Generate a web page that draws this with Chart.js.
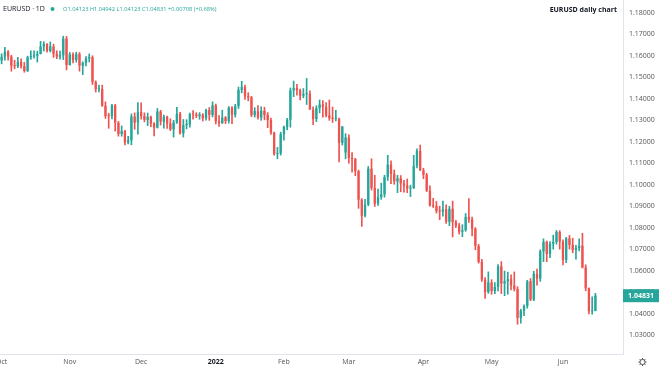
<!DOCTYPE html>
<html>
<head>
<meta charset="utf-8">
<script src="https://cdn.jsdelivr.net/npm/chart.js@4.4.1/dist/chart.umd.min.js"></script>
<style>
  html, body { margin: 0; padding: 0; background: #fff; }
  #wrap { width: 660px; height: 370px; }
</style>
</head>
<body>
<div id="wrap"><canvas id="myChart" width="660" height="370"></canvas></div>
<script>
// EURUSD daily candles, 1 Oct 2021 .. 15 Jun 2022 (one line per month)
const opens = [
  1.1579,1.1596,1.1620,1.1597,1.1554,1.1552,1.1572,1.1552,1.1530,1.1594,1.1598,1.1601,1.1609,1.1644,1.1655,1.1623,1.1644,1.1609,1.1597,1.1603,1.1681,
  1.1558,1.1607,1.1581,1.1609,1.1555,1.1567,1.1588,1.1594,1.1478,1.1445,1.1446,1.1368,1.1320,1.1319,1.1370,1.1289,1.1236,1.1250,1.1197,1.1207,1.1318,1.1290,
  1.1338,1.1320,1.1302,1.1316,1.1285,1.1266,1.1341,1.1294,1.1317,1.1285,1.1258,1.1290,1.1330,1.1239,1.1278,1.1281,1.1329,1.1327,1.1320,1.1327,1.1310,1.1348,1.1325,
  1.1370,1.1296,1.1287,1.1313,1.1297,1.1359,1.1326,1.1366,1.1442,1.1455,1.1412,1.1407,1.1325,1.1343,1.1313,1.1345,1.1325,1.1302,1.1242,1.1143,1.1146,
  1.1235,1.1270,1.1303,1.1440,1.1450,1.1440,1.1415,1.1422,1.1424,1.1349,1.1306,1.1357,1.1374,1.1363,1.1323,1.1310,1.1307,1.1307,1.1195,1.1150,
  1.1220,1.1125,1.1120,1.1063,1.0930,1.0855,1.0907,1.1075,1.0985,1.0912,1.0943,1.0955,1.1036,1.1094,1.1051,1.1016,1.1030,1.1006,1.0996,1.0983,1.0985,1.1088,1.1158,
  1.1067,1.1046,1.0972,1.0903,1.0900,1.0877,1.0875,1.0886,1.0828,1.0888,1.0826,1.0810,1.0781,1.0788,1.0850,1.0838,1.0796,1.0715,1.0640,1.0558,1.0500,
  1.0545,1.0505,1.0524,1.0620,1.0540,1.0550,1.0560,1.0530,1.0514,1.0380,1.0413,1.0435,1.0550,1.0465,1.0585,1.0563,1.0690,1.0734,1.0678,1.0725,1.0733,1.0780,
  1.0735,1.0650,1.0750,1.0720,1.0696,1.0705,1.0716,1.0614,1.0518,1.0410,1.04123
];
const highs = [
  1.1610,1.1640,1.1625,1.1603,1.1580,1.1593,1.1587,1.1570,1.1599,1.1624,1.1624,1.1622,1.1668,1.1666,1.1658,1.1665,1.1655,1.1624,1.1623,1.1692,1.1691,
  1.1616,1.1614,1.1617,1.1616,1.1573,1.1597,1.1609,1.1601,1.1484,1.1464,1.1464,1.1386,1.1333,1.1374,1.1375,1.1295,1.1274,1.1253,1.1226,1.1330,1.1335,1.1383,
  1.1382,1.1335,1.1334,1.1320,1.1290,1.1355,1.1347,1.1325,1.1320,1.1307,1.1300,1.1361,1.1337,1.1304,1.1303,1.1334,1.1346,1.1336,1.1336,1.1331,1.1353,1.1360,1.1386,
  1.1376,1.1322,1.1347,1.1318,1.1364,1.1364,1.1375,1.1455,1.1482,1.1464,1.1429,1.1412,1.1359,1.1369,1.1363,1.1361,1.1336,1.1310,1.1245,1.1174,1.1245,
  1.1273,1.1309,1.1451,1.1483,1.1468,1.1446,1.1448,1.1495,1.1438,1.1363,1.1368,1.1395,1.1392,1.1383,1.1395,1.1362,1.1347,1.1310,1.1272,1.1238,
  1.1233,1.1150,1.1123,1.1068,1.0935,1.0932,1.1085,1.1121,1.1044,1.0980,1.1007,1.1044,1.1137,1.1111,1.1069,1.1044,1.1043,1.1020,1.1027,1.0998,1.1137,1.1167,1.1185,
  1.1077,1.1053,1.0995,1.0937,1.0922,1.0900,1.0924,1.0906,1.0900,1.0924,1.0834,1.0820,1.0814,1.0866,1.0936,1.0849,1.0800,1.0722,1.0653,1.0568,1.0594,
  1.0558,1.0544,1.0628,1.0642,1.0598,1.0593,1.0580,1.0594,1.0525,1.0420,1.0440,1.0555,1.0563,1.0597,1.0607,1.0697,1.0748,1.0738,1.0735,1.0765,1.0787,1.0786,
  1.0743,1.0755,1.0764,1.0751,1.0718,1.0748,1.0774,1.0627,1.0520,1.0478,1.04942
];
const lows = [
  1.1563,1.1580,1.1580,1.1529,1.1540,1.1545,1.1543,1.1524,1.1527,1.1584,1.1589,1.1572,1.1609,1.1623,1.1617,1.1618,1.1593,1.1587,1.1585,1.1583,1.1535,
  1.1557,1.1567,1.1571,1.1529,1.1513,1.1554,1.1572,1.1467,1.1432,1.1432,1.1365,1.1309,1.1263,1.1307,1.1250,1.1226,1.1226,1.1186,1.1190,1.1186,1.1258,1.1235,
  1.1306,1.1293,1.1275,1.1270,1.1227,1.1264,1.1278,1.1264,1.1262,1.1252,1.1222,1.1286,1.1235,1.1222,1.1260,1.1268,1.1305,1.1312,1.1305,1.1297,1.1301,1.1300,1.1316,
  1.1283,1.1272,1.1285,1.1285,1.1287,1.1285,1.1315,1.1355,1.1428,1.1397,1.1391,1.1317,1.1315,1.1306,1.1300,1.1302,1.1266,1.1234,1.1137,1.1121,1.1138,
  1.1208,1.1255,1.1268,1.1410,1.1417,1.1395,1.1405,1.1374,1.1374,1.1280,1.1294,1.1335,1.1315,1.1316,1.1300,1.1290,1.1297,1.1106,1.1185,1.1121,
  1.1100,1.1059,1.1042,1.0890,1.0806,1.0850,1.0902,1.0975,1.0899,1.0904,1.0932,1.0942,1.1020,1.1005,1.1002,1.0963,1.0967,1.0965,1.0963,1.0945,1.0982,1.1078,1.1066,
  1.1028,1.0968,1.0900,1.0894,1.0868,1.0837,1.0854,1.0820,1.0809,1.0757,1.0800,1.0770,1.0758,1.0783,1.0824,1.0762,1.0697,1.0635,1.0550,1.0470,1.0494,
  1.0490,1.0492,1.0505,1.0493,1.0483,1.0490,1.0510,1.0505,1.0350,1.0355,1.0390,1.0425,1.0460,1.0460,1.0532,1.0550,1.0642,1.0642,1.0660,1.0700,1.0723,1.0700,
  1.0627,1.0637,1.0700,1.0683,1.0653,1.0692,1.0612,1.0506,1.0398,1.0397,1.04123
];
const closes = [
  1.1596,1.1620,1.1597,1.1554,1.1552,1.1572,1.1552,1.1530,1.1594,1.1598,1.1601,1.1609,1.1644,1.1655,1.1623,1.1644,1.1609,1.1597,1.1603,1.1681,1.1558,
  1.1607,1.1581,1.1609,1.1555,1.1567,1.1588,1.1594,1.1478,1.1445,1.1446,1.1368,1.1320,1.1319,1.1370,1.1289,1.1236,1.1250,1.1197,1.1207,1.1318,1.1290,1.1338,
  1.1320,1.1302,1.1316,1.1285,1.1266,1.1341,1.1294,1.1317,1.1285,1.1258,1.1290,1.1330,1.1239,1.1278,1.1281,1.1329,1.1327,1.1320,1.1327,1.1310,1.1348,1.1325,1.1370,
  1.1296,1.1287,1.1313,1.1297,1.1359,1.1326,1.1366,1.1442,1.1455,1.1412,1.1407,1.1325,1.1343,1.1313,1.1345,1.1325,1.1302,1.1242,1.1143,1.1146,1.1235,
  1.1270,1.1303,1.1440,1.1450,1.1440,1.1415,1.1422,1.1424,1.1349,1.1306,1.1357,1.1374,1.1363,1.1323,1.1310,1.1307,1.1307,1.1195,1.1270,1.1220,
  1.1125,1.1120,1.1063,1.0930,1.0855,1.0907,1.1075,1.0985,1.0912,1.0943,1.0955,1.1036,1.1094,1.1051,1.1016,1.1030,1.1006,1.0996,1.0983,1.0985,1.1088,1.1158,1.1067,
  1.1046,1.0972,1.0903,1.0900,1.0877,1.0875,1.0886,1.0828,1.0888,1.0826,1.0810,1.0781,1.0788,1.0850,1.0838,1.0796,1.0715,1.0640,1.0558,1.0500,1.0545,
  1.0505,1.0524,1.0620,1.0540,1.0550,1.0560,1.0530,1.0514,1.0380,1.0413,1.0435,1.0550,1.0465,1.0585,1.0563,1.0690,1.0734,1.0678,1.0725,1.0733,1.0780,1.0735,
  1.0650,1.0750,1.0720,1.0696,1.0705,1.0716,1.0614,1.0518,1.0410,1.0412,1.04831
];

const priceTicks = [1.03, 1.04, 1.05, 1.06, 1.07, 1.08, 1.09, 1.10, 1.11, 1.12, 1.13, 1.14, 1.15, 1.16, 1.17, 1.18];
const monthNames = ['Oct', 'Nov', 'Dec', '2022', 'Feb', 'Mar', 'Apr', 'May', 'Jun'];
const header = 'EURUSD \u00b7 1D';
const ohlcText = 'O1.04123 H1.04942 L1.04123 C1.04831 +0.00708 (+0.68%)';
const titleText = 'EURUSD daily chart';

const UP = '#26a69a';
const DOWN = '#ef5350';
const FONT = '"Open Sans", "Noto Sans", sans-serif';
const EMPTY_SLOTS = 8; // blank space right of the last candle

// trading days (Mon-Fri) starting 1 Oct 2021
const dates = [];
(function () {
    const d = new Date(Date.UTC(2021, 9, 1));
    while (dates.length < closes.length) {
        const wd = d.getUTCDay();
        if (wd !== 0 && wd !== 6) dates.push(d.toISOString().slice(0, 10));
        d.setUTCDate(d.getUTCDate() + 1);
    }
})();

// month label on the first trading day of each month
const monthLabelAt = {};
let mi = 0;
dates.forEach((s, i) => {
    if (i === 0 || s.slice(5, 7) !== dates[i - 1].slice(5, 7)) monthLabelAt[i] = monthNames[mi++];
});
const xLabels = dates.concat(Array.from({ length: EMPTY_SLOTS }, (_, k) => 'pad' + k));

const candleColor = i => closes[i] >= opens[i] ? UP : DOWN;

// price scale: 1.18 sits at y=13, 1.03 at y=335, plot bottom at y=354
const pxPerUnit = (335 - 13) / 0.15;
const yMax = 1.18 + 13 / pxPerUnit;
const yMin = 1.03 - (354 - 335) / pxPerUnit;

const overlay = {
    id: 'overlay',
    afterDraw(chart) {
        const ctx = chart.ctx;
        const y = chart.scales.y;
        ctx.save();

        // header, top left
        ctx.textBaseline = 'middle';
        ctx.textAlign = 'left';
        ctx.fillStyle = '#131722';
        ctx.font = '7px ' + FONT;
        ctx.fillText(header, 3, 9);
        ctx.fillStyle = UP;
        ctx.beginPath();
        ctx.arc(52.5, 9, 2, 0, Math.PI * 2);
        ctx.fill();
        ctx.font = '5.7px ' + FONT;
        ctx.fillText(ohlcText, 63, 9);

        // title, top right
        ctx.textAlign = 'right';
        ctx.fillStyle = '#131722';
        ctx.font = 'bold 7px ' + FONT;
        ctx.fillText(titleText, 617, 10);

        // last price tag on the price axis
        const last = closes[closes.length - 1];
        const py = y.getPixelForValue(last);
        ctx.fillStyle = UP;
        ctx.fillRect(y.left, py - 6.5, 36, 13);
        ctx.fillStyle = '#ffffff';
        ctx.textAlign = 'center';
        ctx.font = 'bold 7px ' + FONT;
        ctx.fillText(last.toFixed(5), y.left + 18, py + 0.5);

        // settings gear, bottom right
        ctx.strokeStyle = '#555';
        ctx.lineWidth = 1;
        ctx.beginPath();
        ctx.arc(642.5, 362, 2.6, 0, Math.PI * 2);
        ctx.stroke();
        for (let a = 0; a < 8; a++) {
            const t = a * Math.PI / 4;
            ctx.beginPath();
            ctx.moveTo(642.5 + Math.cos(t) * 2.6, 362 + Math.sin(t) * 2.6);
            ctx.lineTo(642.5 + Math.cos(t) * 4, 362 + Math.sin(t) * 4);
            ctx.stroke();
        }
        ctx.restore();
    }
};

const chartInstance = new Chart(document.getElementById('myChart').getContext('2d'), {
    type: 'bar',
    data: {
        labels: xLabels,
        datasets: [{
            label: 'body',
            data: opens.map((o, i) => [o, closes[i]]),
            backgroundColor: ctx => candleColor(ctx.dataIndex),
            barPercentage: 0.72,
            categoryPercentage: 1,
            grouped: false,
            minBarLength: 1,
            order: 0
        }, {
            label: 'wick',
            data: lows.map((l, i) => [l, highs[i]]),
            backgroundColor: ctx => candleColor(ctx.dataIndex),
            barThickness: 1,
            grouped: false,
            order: 1
        }]
    },
    options: {
        responsive: false,
        animation: false,
        devicePixelRatio: 1,
        layout: { padding: 0 },
        plugins: {
            legend: { display: false },
            tooltip: { enabled: false }
        },
        scales: {
            x: {
                type: 'category',
                offset: true,
                grid: { display: false, drawTicks: false },
                border: { display: true, color: '#e0e3eb' },
                ticks: {
                    autoSkip: false,
                    maxRotation: 0,
                    minRotation: 0,
                    padding: 4,
                    callback: (value, index) => monthLabelAt[index] || '',
                    font: ctx => ({
                        family: FONT,
                        size: 7,
                        weight: monthLabelAt[ctx.index] === '2022' ? 'bold' : 'normal'
                    }),
                    color: ctx => monthLabelAt[ctx.index] === '2022' ? '#131722' : '#555'
                },
                afterFit: s => { s.height = 16; s.paddingLeft = 0; s.paddingRight = 0; }
            },
            y: {
                position: 'right',
                min: yMin,
                max: yMax,
                grid: { display: false, drawTicks: false },
                border: { display: true, color: '#e0e3eb' },
                ticks: {
                    padding: 6,
                    color: '#555',
                    font: { family: FONT, size: 7 },
                    callback: v => v.toFixed(5)
                },
                afterBuildTicks: s => { s.ticks = priceTicks.map(v => ({ value: v })); },
                afterFit: s => { s.width = 37; s.paddingTop = 0; s.paddingBottom = 0; }
            }
        }
    },
    plugins: [overlay]
});
</script>
</body>
</html>
